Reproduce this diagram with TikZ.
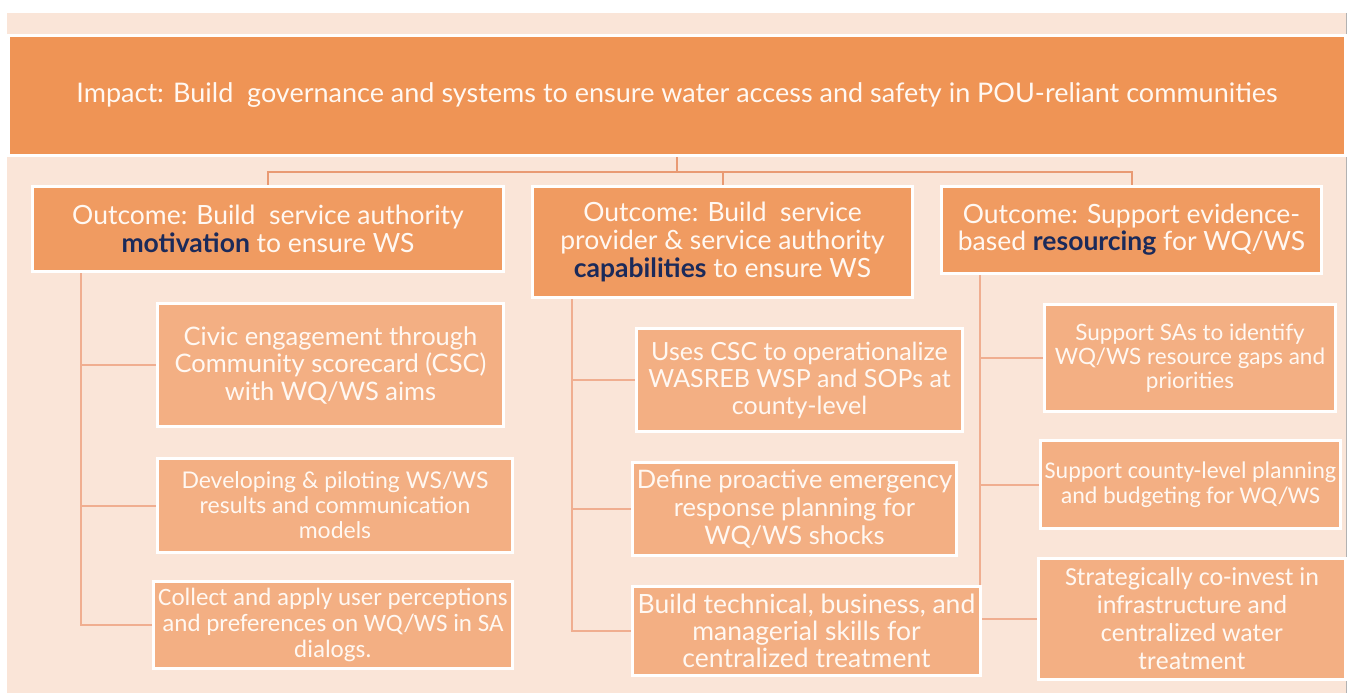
\documentclass[tikz,border=0pt]{standalone}
\usepackage{fontspec}
\setmainfont{Lato}
\newfontfamily\calib{Carlito}
\definecolor{peach}{HTML}{FAE5D8}
\definecolor{impc}{HTML}{EF9455}
\definecolor{outc}{HTML}{F09B61}
\definecolor{actc}{HTML}{F3AF83}
\definecolor{txtc}{HTML}{FFF8F2}
\definecolor{navy}{HTML}{1B2A5A}
\definecolor{linetop}{HTML}{E99A73}
\definecolor{linebr}{HTML}{F0AE90}
\pgfdeclarelayer{bgl}
\pgfdeclarelayer{lines}
\pgfsetlayers{bgl,lines,main}
\newcommand{\kw}[1]{\textcolor{navy}{\textbf{#1}}}
\tikzset{
  box/.style={draw=white, line width=3pt, align=center, inner sep=0pt, text=txtc},
  impbox/.style={box, fill=impc},
  outbox/.style={box, fill=outc},
  actbox/.style={box, fill=actc},
  topline/.style={draw=linetop, line width=2pt},
  branch/.style={draw=linebr, line width=2pt},
}
\begin{document}
\begin{tikzpicture}[x=1pt,y=-1pt]
\useasboundingbox (0,0) rectangle (1349,695);
\begin{pgfonlayer}{bgl}
\fill[peach] (7,13) rectangle (1346,693);
\draw[gray!60, line width=1pt] (1346,13) -- (1346,693);
\end{pgfonlayer}

% impact
\node[impbox, minimum width=1337pt, minimum height=120pt, font=\fontsize{27}{30}\selectfont] (imp) at (677,95.5)
  {Impact: Build\ \ governance and systems to ensure water access and safety in POU-reliant communities};

% outcomes
\node[outbox, minimum width=471pt, minimum height=85pt, font=\fontsize{26.5}{27.5}\selectfont] (o1) at (268,229)
  {Outcome: Build\ \ service authority\\\kw{motivation} to ensure WS};
\node[outbox, minimum width=380pt, minimum height=111pt, font=\fontsize{26.5}{28}\selectfont] (o2) at (722.5,242)
  {Outcome: Build\ \ service\\provider \& service authority\\\kw{capabilities} to ensure WS};
\node[outbox, minimum width=380pt, minimum height=87pt, font=\fontsize{26.5}{27}\selectfont] (o3) at (1131.5,230)
  {Outcome: Support evidence-\\based \kw{resourcing} for WQ/WS};

% column 1
\node[actbox, minimum width=346pt, minimum height=123pt, font=\fontsize{25.5}{27.5}\selectfont] (c11) at (330.5,365)
  {Civic engagement through\\Community scorecard (CSC)\\with WQ/WS aims};
\node[actbox, minimum width=355pt, minimum height=94pt, font=\fontsize{23}{25}\selectfont] (c12) at (335,505.5)
  {Developing \& piloting WS/WS\\results and communication\\models};
\node[actbox, minimum width=359pt, minimum height=87pt, font=\calib\fontsize{25}{26}\selectfont] (c13) at (333,625)
  {Collect and apply user perceptions\\and preferences on WQ/WS in SA\\dialogs.};

% column 2
\node[actbox, minimum width=326pt, minimum height=103pt, font=\fontsize{25}{27}\selectfont] (c21) at (799.5,380)
  {Uses CSC to operationalize\\WASREB WSP and SOPs at\\county-level};
\node[actbox, minimum width=324pt, minimum height=93pt, font=\fontsize{25.5}{28}\selectfont] (c22) at (794.5,509)
  {Define proactive emergency\\response planning for\\WQ/WS shocks};
\node[actbox, minimum width=348pt, minimum height=89pt, font=\fontsize{26.5}{27}\selectfont] (c23) at (806.5,631)
  {Build technical, business, and\\managerial skills for\\centralized treatment};

% column 3
\node[actbox, minimum width=291pt, minimum height=107pt, font=\fontsize{22.5}{24}\selectfont] (c31) at (1190,358)
  {Support SAs to identify\\WQ/WS resource gaps and\\priorities};
\node[actbox, minimum width=300pt, minimum height=88pt, font=\calib\fontsize{24}{25}\selectfont] (c32) at (1190.5,484.5)
  {Support county-level planning\\and budgeting for WQ/WS};
\node[actbox, minimum width=307pt, minimum height=121pt, font=\calib\fontsize{26}{28}\selectfont] (c33) at (1192,619)
  {Strategically co-invest in\\infrastructure and\\centralized water\\treatment};

\coordinate (bus) at (0,172);
\coordinate (t1) at (81,0);
\coordinate (t2) at (572,0);
\coordinate (t3) at (980,0);

\begin{pgfonlayer}{lines}
\draw[topline] (imp.south) -- (imp.south |- bus);
\draw[topline] (o1.north) -- (o1.north |- bus) -- (o3.north |- bus) -- (o3.north);
\draw[topline] (o2.north) -- (o2.north |- bus);
% column 1
\draw[branch] (o1.south -| t1) |- (c13.west);
\draw[branch] (t1 |- c11.west) -- (c11.west);
\draw[branch] (t1 |- c12.west) -- (c12.west);
% column 2
\draw[branch] (o2.south -| t2) |- (c23.west);
\draw[branch] (t2 |- c21.west) -- (c21.west);
\draw[branch] (t2 |- c22.west) -- (c22.west);
% column 3
\draw[branch] (o3.south -| t3) |- (c33.west);
\draw[branch] (t3 |- c31.west) -- (c31.west);
\draw[branch] (t3 |- c32.west) -- (c32.west);
\end{pgfonlayer}
\end{tikzpicture}
\end{document}
